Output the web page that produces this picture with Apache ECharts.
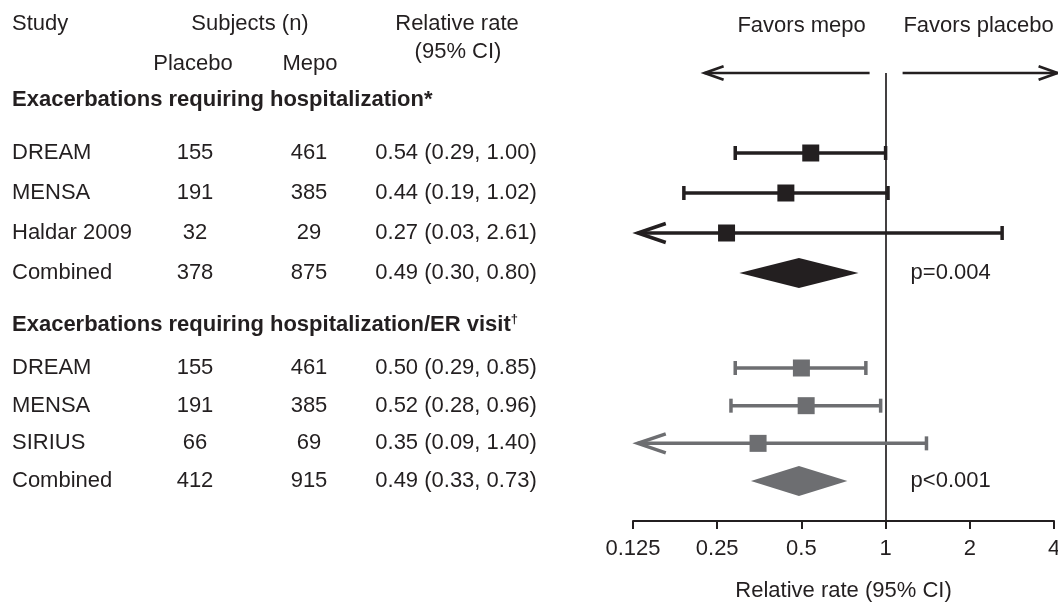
<!DOCTYPE html>
<html><head><meta charset="utf-8">
<script src="https://cdn.jsdelivr.net/npm/echarts@6/dist/echarts.min.js"></script>
<style>html,body{margin:0;padding:0;background:#fff}#c{width:1058px;height:604px}</style>
</head><body><div id="c"></div>
<script>
// ---------------- DATA ----------------
const groupTitles = ['Exacerbations requiring hospitalization*', 'Exacerbations requiring hospitalization/ER visit'];
const groupTitleSup = ['', '\u2020'];
const studies1 = ['DREAM', 'MENSA', 'Haldar 2009', 'Combined'];
const placebo1 = [155, 191, 32, 378];
const mepo1 = [461, 385, 29, 875];
const rr1 = [0.54, 0.44, 0.27, 0.49];
const lo1 = [0.29, 0.19, 0.03, 0.30];
const hi1 = [1.00, 1.02, 2.61, 0.80];
const studies2 = ['DREAM', 'MENSA', 'SIRIUS', 'Combined'];
const placebo2 = [155, 191, 66, 412];
const mepo2 = [461, 385, 69, 915];
const rr2 = [0.50, 0.52, 0.35, 0.49];
const lo2 = [0.29, 0.28, 0.09, 0.33];
const hi2 = [0.85, 0.96, 1.40, 0.73];
const pValues = ['p=0.004', 'p<0.001'];
const xMin = 0.125, xMax = 4;
const axisTitle = 'Relative rate (95% CI)';
const favorsLeft = 'Favors mepo', favorsRight = 'Favors placebo';

// ---------------- LAYOUT / STYLE ----------------
const FONT = "'Liberation Sans', Arial, Helvetica, sans-serif";
const FS = 22;
const DARK = '#231f20', GREY = '#6d6e71';
const groups = [
  {studies: studies1, placebo: placebo1, mepo: mepo1, rr: rr1, lo: lo1, hi: hi1, header: 0.675, start: 2.0, step: 1.0, color: DARK},
  {studies: studies2, placebo: placebo2, mepo: mepo2, rr: rr2, lo: lo2, hi: hi2, header: 6.3, start: 7.375, step: 0.942, color: GREY}
];
const CLIP_MIN = 0.13;
const COL = {study: 12, placebo: 195, mepo: 309, rate: 456};

const tableData = [], forestData = [];
groups.forEach((g, gi) => {
  tableData.push([1, g.header, gi, -1]);
  g.studies.forEach((s, i) => {
    const slot = g.start + i * g.step;
    tableData.push([1, slot, gi, i]);
    forestData.push([g.lo[i], g.hi[i], g.rr[i], slot, gi, i === g.studies.length - 1 ? 1 : 0]);
  });
});

function txt(x, y, text, opt) {
  return {type: 'text', x: x, y: y, style: Object.assign({text: text, fontSize: FS, fontFamily: FONT, fill: DARK, align: 'left', verticalAlign: 'middle'}, opt || {})};
}

function renderTable(params, api) {
  const gi = api.value(2), i = api.value(3);
  const y = api.coord([1, api.value(1)])[1];
  const g = groups[gi];
  if (i < 0) {
    return {type: 'text', x: COL.study, y: y, style: {
      text: '{b|' + groupTitles[gi] + '}' + (groupTitleSup[gi] ? '{s|' + groupTitleSup[gi] + '}' : ''),
      align: 'left', verticalAlign: 'middle', fill: DARK,
      rich: {b: {fontSize: FS, fontFamily: FONT, fontWeight: 'bold', fill: DARK, color: DARK, lineHeight: 24},
             s: {fontSize: 13, fontFamily: FONT, fontWeight: 'bold', color: DARK, verticalAlign: 'top', lineHeight: 24, padding: [0,0,8,0]}}
    }};
  }
  const f = v => v.toFixed(2);
  const rate = f(g.rr[i]) + ' (' + f(g.lo[i]) + ', ' + f(g.hi[i]) + ')';
  const children = [
    txt(COL.study, y, g.studies[i]),
    txt(COL.placebo, y, String(g.placebo[i]), {align: 'center'}),
    txt(COL.mepo, y, String(g.mepo[i]), {align: 'center'}),
    txt(COL.rate, y, rate, {align: 'center'})
  ];
  if (i === g.studies.length - 1) {
    const cx = api.coord([1, 0])[0];
    children.push(txt(cx + 25, y, pValues[gi]));
  }
  return {type: 'group', children: children};
}

function renderForest(params, api) {
  const lo = api.value(0), hi = api.value(1), rr = api.value(2), slot = api.value(3), gi = api.value(4), comb = api.value(5);
  const color = groups[gi].color;
  const pL = api.coord([Math.max(lo, CLIP_MIN), slot]);
  const pH = api.coord([hi, slot]);
  const pE = api.coord([rr, slot]);
  const y = pE[1];
  if (comb) {
    const h = 15;
    return {type: 'polygon', shape: {points: [[pL[0], y], [pE[0], y - h], [pH[0], y], [pE[0], y + h]]}, style: {fill: color}};
  }
  const lw = 3.5, capH = 7, sq = 17;
  const ch = [];
  ch.push({type: 'line', shape: {x1: pL[0], y1: y, x2: pH[0], y2: y}, style: {stroke: color, lineWidth: lw}});
  if (lo < CLIP_MIN) {
    ch.push({type: 'polyline', shape: {points: [[pL[0] + 28, y - 9.5], [pL[0], y], [pL[0] + 28, y + 9.5]]}, style: {stroke: color, lineWidth: lw, fill: null}});
  } else {
    ch.push({type: 'line', shape: {x1: pL[0], y1: y - capH, x2: pL[0], y2: y + capH}, style: {stroke: color, lineWidth: lw}});
  }
  ch.push({type: 'line', shape: {x1: pH[0], y1: y - capH, x2: pH[0], y2: y + capH}, style: {stroke: color, lineWidth: lw}});
  ch.push({type: 'rect', shape: {x: pE[0] - sq / 2, y: y - sq / 2, width: sq, height: sq}, style: {fill: color}});
  return {type: 'group', children: ch};
}

function renderFavors(params, api) {
  const p = api.coord([1, 0]);
  const cx = p[0], y = p[1];
  const st = {stroke: DARK, lineWidth: 2.7, fill: null};
  const aL = cx - 181, aR = cx + 172;
  return {type: 'group', children: [
    {type: 'line', shape: {x1: aL, y1: y, x2: cx - 16, y2: y}, style: st},
    {type: 'polyline', shape: {points: [[aL + 19, y - 6.7], [aL, y], [aL + 19, y + 6.7]]}, style: st},
    {type: 'line', shape: {x1: cx + 17, y1: y, x2: aR, y2: y}, style: st},
    {type: 'polyline', shape: {points: [[aR - 19, y - 6.7], [aR, y], [aR - 19, y + 6.7]]}, style: st},
    txt(cx - 84, 25.5, favorsLeft, {align: 'center'}),
    txt(cx + 93, 25.5, favorsRight, {align: 'center'})
  ]};
}

const chart = echarts.init(document.getElementById('c'));
chart.setOption({
  animation: false,
  backgroundColor: '#ffffff',
  grid: {left: 633, right: 4, top: 73, height: 448, containLabel: false, outerBoundsMode: 'none'},
  xAxis: {
    type: 'log', logBase: 2, min: xMin, max: xMax, splitNumber: 5, position: 'bottom',
    axisLine: {show: true, onZero: false, lineStyle: {color: DARK, width: 2}},
    axisTick: {show: true, length: 8, lineStyle: {color: DARK, width: 2}},
    splitLine: {show: false}, minorTick: {show: false},
    axisLabel: {fontSize: FS, fontFamily: FONT, color: DARK, margin: 17, showMinLabel: true, showMaxLabel: true,
      formatter: v => String(+(+v).toPrecision(6))},
    name: axisTitle, nameLocation: 'middle', nameGap: 59,
    nameTextStyle: {fontSize: FS, fontFamily: FONT, color: DARK}
  },
  yAxis: {type: 'value', inverse: true, min: 0, max: 11.2, show: false},
  graphic: [
    {type: 'text', x: 12, y: 24, style: {text: 'Study', fontSize: FS, fontFamily: FONT, fill: DARK, align: 'left', verticalAlign: 'middle'}},
    {type: 'text', x: 250, y: 24, style: {text: 'Subjects (n)', fontSize: FS, fontFamily: FONT, fill: DARK, align: 'center', verticalAlign: 'middle'}},
    {type: 'text', x: 457, y: 24, style: {text: 'Relative rate', fontSize: FS, fontFamily: FONT, fill: DARK, align: 'center', verticalAlign: 'middle'}},
    {type: 'text', x: 458, y: 52, style: {text: '(95% CI)', fontSize: FS, fontFamily: FONT, fill: DARK, align: 'center', verticalAlign: 'middle'}},
    {type: 'text', x: 193, y: 63.5, style: {text: 'Placebo', fontSize: FS, fontFamily: FONT, fill: DARK, align: 'center', verticalAlign: 'middle'}},
    {type: 'text', x: 310, y: 63.5, style: {text: 'Mepo', fontSize: FS, fontFamily: FONT, fill: DARK, align: 'center', verticalAlign: 'middle'}}
  ],
  series: [
    {type: 'custom', name: 'favors', data: [[1, 0]], encode: {x: 0, y: 1}, renderItem: renderFavors, clip: false, silent: true},
    {type: 'custom', name: 'forest', data: forestData, encode: {x: [0, 1, 2], y: 3}, renderItem: renderForest, clip: false, silent: true, z: 3,
      markLine: {silent: true, symbol: ['none', 'none'], label: {show: false}, lineStyle: {color: DARK, width: 1.7, type: 'solid'}, data: [{xAxis: 1}], z: 1}},
    {type: 'custom', name: 'table', data: tableData, encode: {x: 0, y: 1}, renderItem: renderTable, clip: false, silent: true}
  ]
});
</script></body></html>
